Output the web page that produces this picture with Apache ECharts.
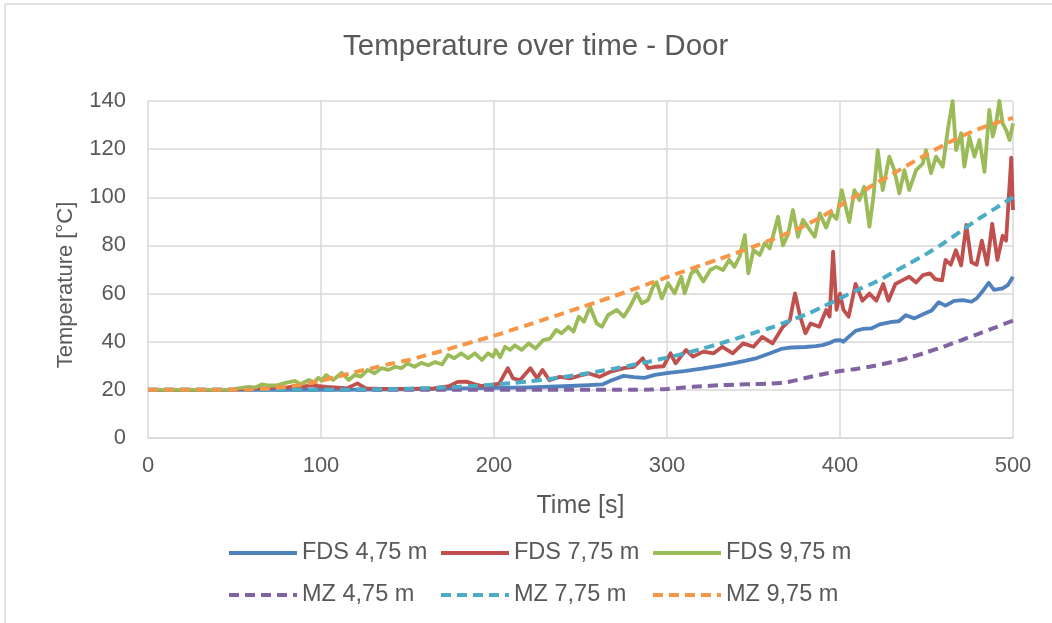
<!DOCTYPE html>
<html><head><meta charset="utf-8">
<script src="https://cdn.jsdelivr.net/npm/echarts@6/dist/echarts.min.js"></script>
<style>html,body{margin:0;padding:0;background:#fff}#c{width:1052px;height:623px}</style>
</head><body><div id="c"></div>
<script>
const seriesNames = ['FDS 4,75 m','FDS 7,75 m','FDS 9,75 m','MZ 4,75 m','MZ 7,75 m','MZ 9,75 m'];
const xTicks = [0,100,200,300,400,500];
const yTicks = [0,20,40,60,80,100,120,140];

const fds475Time = [0,50,100,150,200,220,240,255,263,268,275,281,287,293,302,310,320,330,338,345,352,360,366,372,380,386,390,394,397,400,402,405,409,413,418,423,430,434,438,443,448,453,457,461,466,471,476,479,483,486,489,494,497,500];
const fds475Temp = [20,20,20,20.2,20.8,21,21.5,22,22.3,24,25.8,25.3,25,26.2,27.2,27.8,28.8,30,31,32,33.2,35.3,37,37.6,37.8,38.2,38.6,39.5,40.5,40.7,40,42,44.5,45.3,45.5,47.2,48.2,48.5,51,49.7,51.4,53,56.4,55,57,57.3,56.6,58,61.5,64.5,61.5,62.2,63.5,67];

const fds775Time = [0,50,55,58,64,68,74,78,84,88,94,98,103,108,115,121,126,135,150,165,174,179,184,189,193,198,203,208,211,215,221,225,228,232,238,244,250,255,261,267,275,281,286,289,294,298,302,305,311,315,321,327,332,338,344,350,355,361,367,371,374,377,380,383,388,392,394,396,398,400,402,405,409,413,417,421,425,428,432,436,440,444,448,452,455,459,461,464,467,470,473,476,479,482,485,488,491,494,496,499,500];
const fds775Temp = [20,20,20.5,20,21,20.3,21.3,20.6,21.5,21,22,21.6,21.2,21,20.6,22.7,20.6,20.4,20.4,20.6,21.5,23.3,23.4,22.3,21.6,22,22.6,29,24.8,24,29,24.8,28.3,24,25.4,24.8,26,26.8,25.4,27.4,29,29.6,33.1,29,29.6,29.8,35.2,31,36.6,33.8,35.9,35.2,37.9,35.2,39.3,37.9,42,39.3,46.2,49,60.1,50.4,43.5,47.6,46.2,53.2,50.4,77.4,53.2,60,53.2,50.4,64,57,60,57,64,57,64,65.5,67,64.6,67.7,68.4,66,65.5,74,72,78,71.7,88.5,73,72,82,72,89,74,84,82,116.5,94.7];

const fds975Time = [0,48,52,58,62,66,70,74,79,85,
  88,93,96,98.5,100.5,103,107,112,116,119.5,
  123,127,131,135,139,143,146.5,150,154,158,
  162,166,170,173.5,177,181,185,189,193,196.6,
  199.5,201,203.5,206.4,209.3,212,216,220,224,228.5,
  232.4,236,239,243,246,249,252,255.5,259.4,262.3,
  266,271,275,278.6,282.5,285.4,289,292,294,297,
  300.6,304.4,308.3,310.2,314,317,321,325,328.5,332.4,
  336,339,342,345,347,350,353.6,356.5,359.4,364.2,
  367,370,372.8,375.7,378.6,382.5,385.4,388.3,392,395,
  398,401,405.4,408.3,411.2,414,417,419.3,421.8,424.7,
  428.5,431.4,434.3,437.2,440,444,447.8,449.7,452.6,455.5,
  459.4,462.3,465.1,467.1,470,471.9,474.8,477.7,480.6,483.5,
  486.3,488.3,490.2,492.1,494,496,498,500];
const fds975Temp = [20,20,20.6,21.2,21,22.3,21.8,21.8,22.8,23.7,
  22.3,24.1,23.2,25,23.8,26.2,24.1,27.1,24.1,26.2,
  25.5,28.3,26.9,29,28.3,29.6,29,31,29.6,31.2,
  30.2,31.6,30.5,34.5,33.1,35.2,33.1,35.2,32.4,35.2,
  33.8,36.6,33.5,37.9,36.6,38.5,36.6,39.3,37.2,40.7,
  41.3,44.9,43.5,46.2,44.2,50.4,48.3,54.5,47.6,46.2,
  51.1,53.2,50.4,54.5,60.1,56,57.3,62.9,64.7,58,
  64.3,60.1,67,60.1,68.4,69.8,65,69.8,71.1,69.8,
  74,71.1,75.4,84.3,68.4,78.1,76,80.9,78.8,91.9,
  80,84.7,94.7,83.6,90.6,86.5,83.6,93.3,87.4,93.3,
  91,103,89.7,103,98.8,104.4,87.8,100.2,119.6,103,
  116.9,111.3,101.6,111.3,103,111.3,114,119.6,110,116.9,
  112.7,128,140,119.6,126.6,112.7,125.2,116.9,123.8,110.6,
  136.3,125.2,130.7,140,130.7,128,123.8,130.7];

const mzTime = [0,10,20,30,40,50,60,70,80,90,100,110,120,130,140,150,160,170,180,190,200,210,220,230,240,250,260,270,280,290,300,310,320,330,340,350,360,370,380,390,400,410,420,430,440,450,460,470,480,490,500];
const mz475Temp = [20,20,20,20,20,20,20,20,20,20,20,20,20,20,20,20,20,20,20,20,20,20,20,20,20,20,20,20,20,20.1,20.4,21,21.5,21.9,22.2,22.4,22.6,23.3,24.9,26.5,27.8,28.8,30,31.6,33.4,35.6,38,40.6,43.3,46,48.8];
const mz775Temp = [20,20,20,20,20,20,20,20,20,20,20,20,20.1,20.2,20.3,20.5,20.7,21,21.3,21.7,22.2,22.8,23.5,24.3,25.3,26.4,27.6,28.9,30.3,31.8,33.4,35.1,37,39.1,41.3,43.6,45.8,48.5,51.2,54.5,58,61.5,64.6,68.5,72.5,76.5,81,86,91,95.5,100];
const mz975Temp = [20,20,20,20,20,20,20.2,20.6,21.3,22.3,23.8,25.6,27.4,29.1,30.8,32.3,34.2,36.2,38.3,40.4,42.5,44.8,47.1,49.5,51.8,54.2,56.6,59.1,61.6,64.2,66.8,69.3,71.8,74.3,76.9,79.5,82.3,85.2,88.4,92.2,96.6,100.8,105.5,109.5,113.7,117.8,121.7,125.3,128.3,130.8,133];

const zip = (t, v) => t.map((x, i) => [x, v[i]]);
const FONT = "'Liberation Sans', Arial, sans-serif";
const TXT = '#595959';
const GRIDC = '#d9d9d9';
const colors = ['#4F81BD','#C0504D','#9BBB59','#8064A2','#4BACC6','#F79646'];

function lineSeries(i, data, dashed) {
  return {
    name: seriesNames[i], type: 'line', data: data, showSymbol: false, symbol: 'none',
    smooth: dashed ? 0.3 : false, animation: false,
    lineStyle: dashed ? {color: colors[i], width: 4, type: [10, 6], cap: 'butt'} : {color: colors[i], width: 3.8, join: 'round'},
    itemStyle: {color: colors[i]}, z: 2 + i
  };
}

const legendLefts = [222, 434, 646];
const legendTops = [536, 578];
const legends = seriesNames.map((n, i) => ({
  left: legendLefts[i % 3], top: legendTops[Math.floor(i / 3)],
  orient: 'horizontal', itemWidth: 68, itemHeight: 14, itemGap: 10,
  itemStyle: {opacity: 0},
  lineStyle: {width: 4},
  textStyle: {color: TXT, fontSize: 23.5, fontFamily: FONT},
  selectedMode: false, data: [n]
}));

const chart = echarts.init(document.getElementById('c'), null, {renderer: 'canvas'});
chart.setOption({
  animation: false,
  textStyle: {fontFamily: FONT},
  title: {text: 'Temperature over time - Door', left: 338, top: 27,
    textStyle: {color: TXT, fontSize: 29.5, fontWeight: 'normal', fontFamily: FONT}},
  grid: {left: 148, top: 101, width: 865, height: 337},
  xAxis: {type: 'value', min: xTicks[0], max: xTicks[xTicks.length-1], interval: 100,
    name: 'Time [s]', nameLocation: 'middle', nameGap: 56,
    nameTextStyle: {color: TXT, fontSize: 25, fontFamily: FONT},
    axisLine: {show: true, lineStyle: {color: GRIDC, width: 1.5}},
    axisTick: {show: false},
    axisLabel: {color: TXT, fontSize: 22, margin: 17, fontFamily: FONT},
    splitLine: {show: true, lineStyle: {color: GRIDC, width: 1.5}}},
  yAxis: {type: 'value', min: yTicks[0], max: yTicks[yTicks.length-1], interval: 20,
    axisLine: {show: false}, axisTick: {show: false},
    axisLabel: {color: TXT, fontSize: 22, margin: 22, fontFamily: FONT},
    splitLine: {show: true, lineStyle: {color: GRIDC, width: 1.5}}},
  legend: legends,
  graphic: [
    {type: 'line', shape: {x1: 5, y1: 4, x2: 5, y2: 623}, style: {stroke: GRIDC, lineWidth: 1.5}, silent: true},
    {type: 'line', shape: {x1: 5, y1: 4, x2: 1052, y2: 4}, style: {stroke: GRIDC, lineWidth: 1.5}, silent: true},
    {type: 'text', x: 66, y: 285, rotation: Math.PI / 2, silent: true,
      style: {text: 'Temperature [°C]', fill: TXT, font: "22px 'Liberation Sans', Arial, sans-serif", align: 'center', verticalAlign: 'middle'}}
  ],
  series: [
    lineSeries(0, zip(fds475Time, fds475Temp), false),
    lineSeries(1, zip(fds775Time, fds775Temp), false),
    lineSeries(2, zip(fds975Time, fds975Temp), false),
    lineSeries(3, zip(mzTime, mz475Temp), true),
    lineSeries(4, zip(mzTime, mz775Temp), true),
    lineSeries(5, zip(mzTime, mz975Temp), true)
  ]
});
</script></body></html>
